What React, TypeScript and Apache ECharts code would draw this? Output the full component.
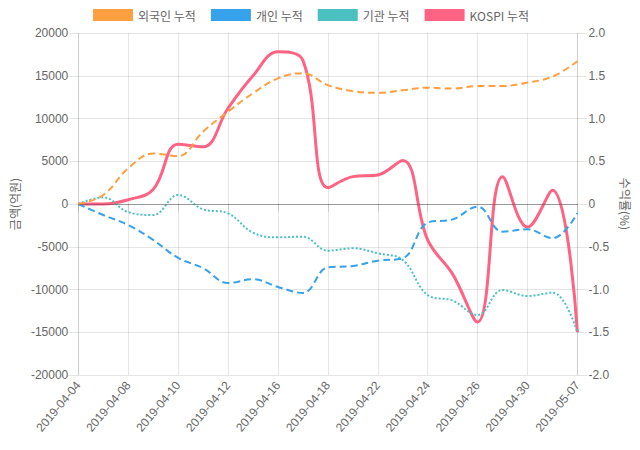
import React, { useEffect, useRef } from "react";
import * as echarts from "echarts";

const dates = [
  "2019-04-04", "2019-04-05", "2019-04-08", "2019-04-09", "2019-04-10", "2019-04-11",
  "2019-04-12", "2019-04-15", "2019-04-16", "2019-04-17", "2019-04-18", "2019-04-19",
  "2019-04-22", "2019-04-23", "2019-04-24", "2019-04-25", "2019-04-26", "2019-04-29",
  "2019-04-30", "2019-05-02", "2019-05-07",
];

const foreignCum = [
  0, 1050, 4170, 5900, 5600, 8460, 10800, 12950, 14700, 15300, 13900,
  13200, 13000, 13300, 13600, 13500, 13800, 13800, 14200, 14900, 16700,
];
const individualCum = [
  0, -1290, -2460, -4200, -6300, -7500, -9240, -8800, -9700, -10400, -7400,
  -7250, -6630, -6350, -2180, -1800, -310, -3240, -2960, -4000, -1050,
];
const institutionCum = [
  0, 780, -950, -1290, 1050, -620, -1090, -3350, -3900, -3820, -5460,
  -5180, -5770, -6550, -10640, -11300, -12980, -10060, -10760, -10370, -15050,
];
const kospiCum = [
  0, 0.0, 0.05, 0.17, 0.7, 0.67, 1.12, 1.5, 1.78, 1.68, 0.19,
  0.32, 0.34, 0.51, -0.42, -0.82, -1.38, 0.32, -0.27, 0.16, -1.5,
];

const leftTicks = { min: -20000, max: 20000, interval: 5000 };
const rightTicks = { min: -2, max: 2, interval: 0.5 };

const FONT = "'Liberation Sans', Arial, 'Noto Sans CJK KR', sans-serif";
const KFONT = "'Noto Sans CJK KR', 'Liberation Sans', sans-serif";
const GRID = "rgba(0,0,0,0.1)";
const TXT = "#666";

export default function App() {
  const ref = useRef<HTMLDivElement>(null);
  useEffect(() => {
    document.body.style.margin = "0";
    if (!ref.current) return;
    const chart = echarts.init(ref.current, undefined, { renderer: "svg" });
    chart.setOption({
      animation: false,
      textStyle: { fontFamily: FONT },
      legend: {
        top: 9,
        left: 93,
        itemWidth: 40,
        itemHeight: 12,
        itemGap: 15,
        icon: "rect",
        padding: 0,
        textStyle: { color: TXT, fontSize: 12, fontFamily: KFONT },
        data: ["외국인 누적", "개인 누적", "기관 누적", "KOSPI 누적"],
      },
      grid: { left: 75, right: 60, top: 33, bottom: 75, containLabel: false },
      xAxis: {
        type: "category",
        data: dates,
        boundaryGap: false,
        axisLine: { lineStyle: { color: GRID } },
        axisTick: { show: true, interval: 1, length: 8, lineStyle: { color: GRID } },
        axisLabel: {
          interval: 1,
          rotate: 50,
          color: TXT,
          fontSize: 12,
          fontFamily: FONT,
          margin: 8,
        },
        splitLine: { show: true, interval: 1, lineStyle: { color: GRID } },
      },
      yAxis: [
        {
          type: "value",
          position: "left",
          min: leftTicks.min,
          max: leftTicks.max,
          interval: leftTicks.interval,
          name: "금액(억원)",
          nameLocation: "middle",
          nameGap: 58,
          nameRotate: 90,
          nameTextStyle: { color: TXT, fontSize: 12, fontFamily: KFONT },
          axisLine: { show: true, lineStyle: { color: GRID } },
          axisTick: { show: true, length: 10, lineStyle: { color: GRID } },
          axisLabel: {
            color: TXT,
            fontSize: 12,
            fontFamily: FONT,
            margin: 10,
            formatter: (v: number) => String(v),
          },
          splitLine: { show: true, lineStyle: { color: GRID } },
        },
        {
          type: "value",
          position: "right",
          min: rightTicks.min,
          max: rightTicks.max,
          interval: rightTicks.interval,
          name: "수익률(%)",
          nameLocation: "middle",
          nameGap: 40,
          nameRotate: -90,
          nameTextStyle: { color: TXT, fontSize: 12, fontFamily: KFONT },
          axisLine: { show: true, lineStyle: { color: GRID } },
          axisTick: { show: true, length: 10, lineStyle: { color: GRID } },
          axisLabel: {
            color: TXT,
            fontSize: 12,
            fontFamily: FONT,
            margin: 11,
            formatter: (v: number) => (v === 0 ? "0" : v.toFixed(1)),
          },
          splitLine: { show: false },
        },
      ],
      series: [
        {
          name: "KOSPI 누적",
          type: "line",
          yAxisIndex: 1,
          data: kospiCum,
          smooth: 0.4,
          showSymbol: false,
          lineStyle: { color: "rgb(255,99,132)", width: 3 },
          itemStyle: { color: "rgb(255,99,132)" },
          markLine: {
            silent: true,
            symbol: "none",
            label: { show: false },
            lineStyle: { color: "rgba(0,0,0,0.25)", type: "solid", width: 1 },
            data: [{ yAxis: 0 }],
          },
        },
        {
          name: "기관 누적",
          type: "line",
          yAxisIndex: 0,
          data: institutionCum,
          smooth: 0.4,
          showSymbol: false,
          lineStyle: { color: "rgb(75,192,192)", width: 2, type: [2, 2] },
          itemStyle: { color: "rgb(75,192,192)" },
        },
        {
          name: "개인 누적",
          type: "line",
          yAxisIndex: 0,
          data: individualCum,
          smooth: 0.4,
          showSymbol: false,
          lineStyle: { color: "rgb(54,162,235)", width: 2, type: [7, 4] },
          itemStyle: { color: "rgb(54,162,235)" },
        },
        {
          name: "외국인 누적",
          type: "line",
          yAxisIndex: 0,
          data: foreignCum,
          smooth: 0.4,
          showSymbol: false,
          lineStyle: { color: "rgb(255,159,64)", width: 2, type: [7, 4] },
          itemStyle: { color: "rgb(255,159,64)" },
        },
      ],
    });
    return () => chart.dispose();
  }, []);
  return <div ref={ref} style={{ width: 640, height: 450 }} />;
}
